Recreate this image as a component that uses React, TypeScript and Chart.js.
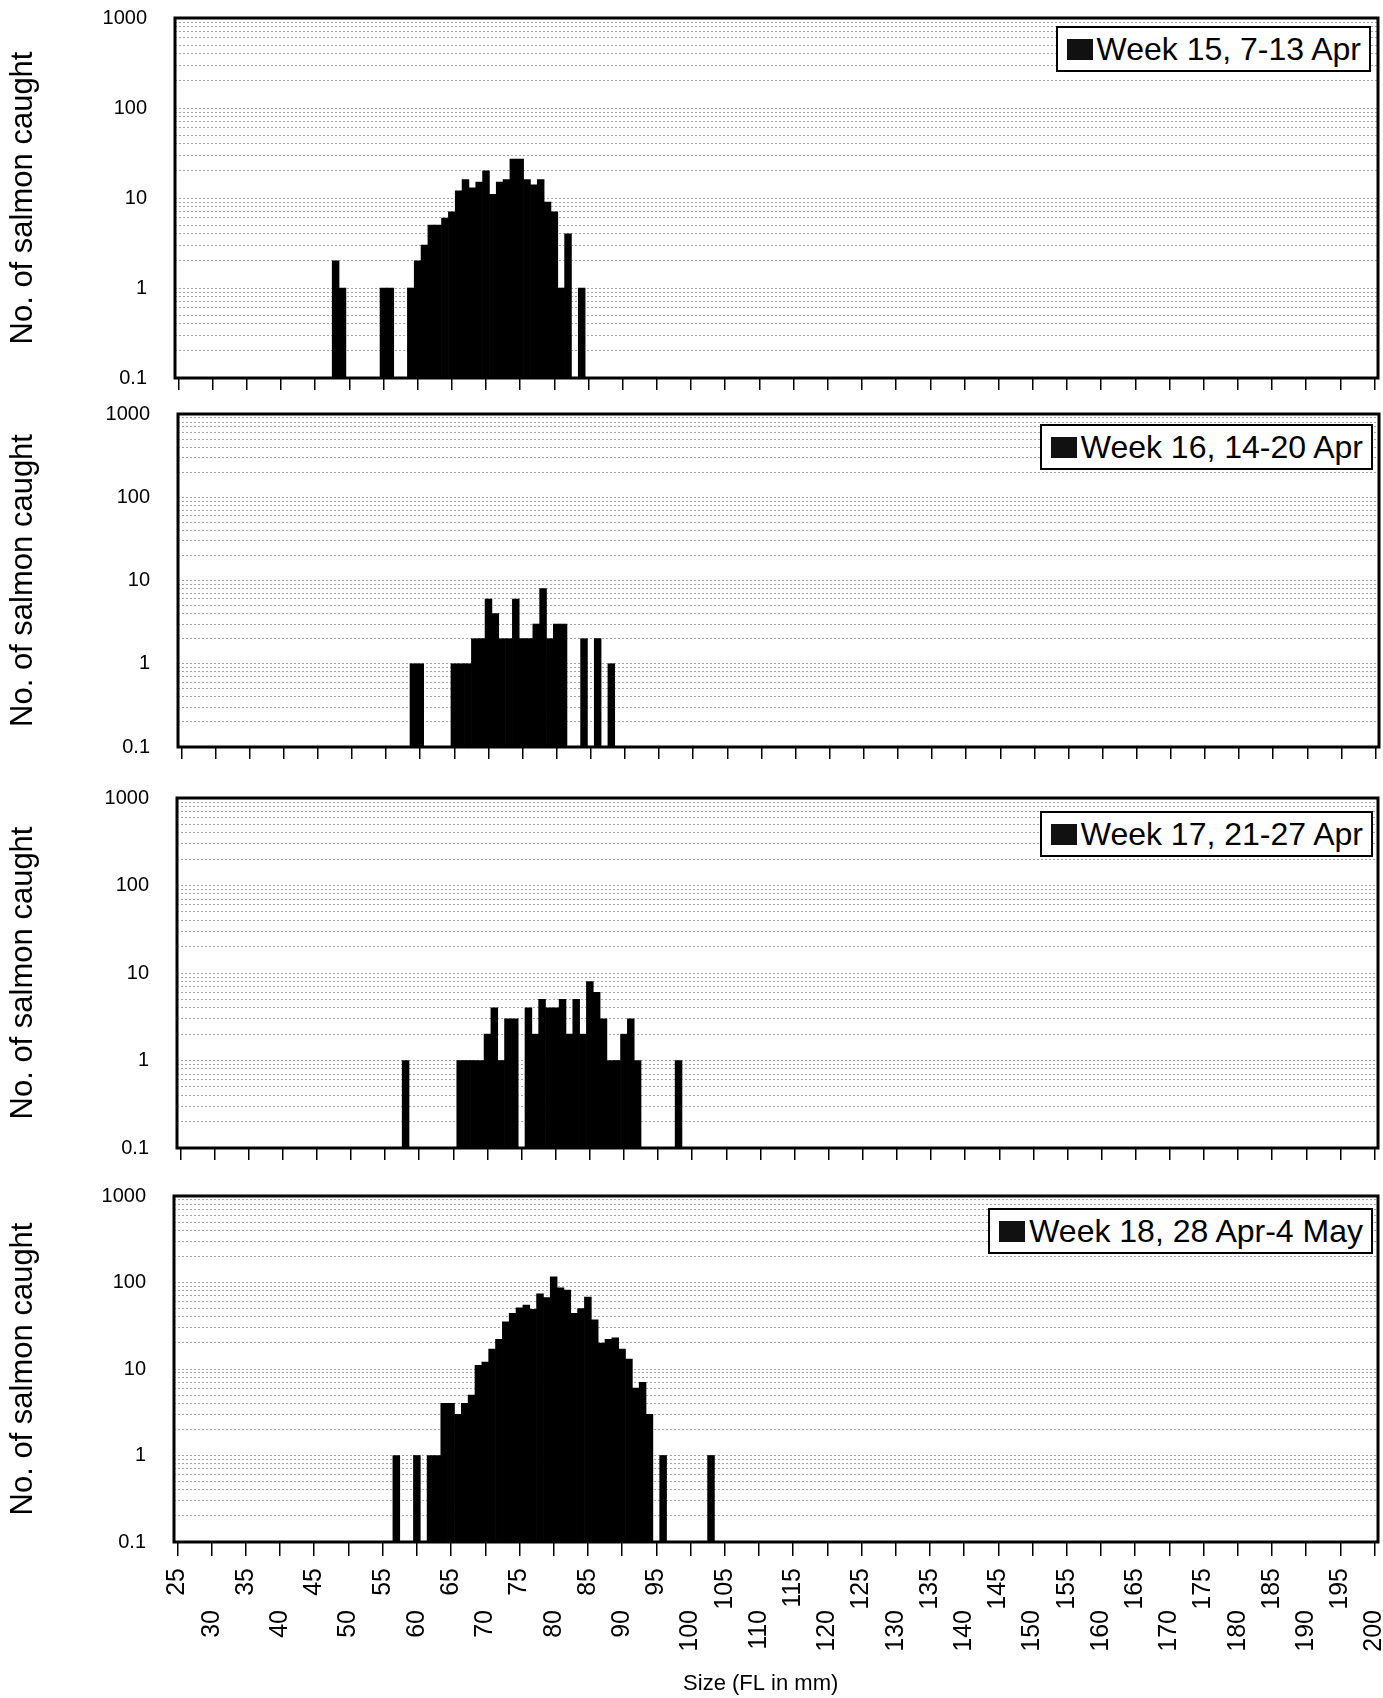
import React, { useEffect, useRef } from 'react';
import { Chart, registerables } from 'chart.js';

Chart.register(...registerables);

// ---------- data ----------
const SIZE_MIN = 25;
const SIZE_MAX = 200;
const sizeCategories: number[] = Array.from({ length: SIZE_MAX - SIZE_MIN + 1 }, (_, i) => SIZE_MIN + i);

const weekLabels = ['Week 15, 7-13 Apr', 'Week 16, 14-20 Apr', 'Week 17, 21-27 Apr', 'Week 18, 28 Apr-4 May'];

const week15Sizes = [48, 49, 55, 56, 59, 60, 61, 62, 63, 64, 65, 66, 67, 68, 69, 70, 71, 72, 73, 74, 75, 76, 77, 78, 79, 80, 81, 82, 84];
const week15Counts = [2, 1, 1, 1, 1, 2, 3, 5, 5, 6, 7, 12, 16, 13, 15, 20, 11, 15, 16, 27, 27, 16, 14, 16, 9, 7, 1, 4, 1];

const week16Sizes = [59, 60, 65, 66, 67, 68, 69, 70, 71, 72, 73, 74, 75, 76, 77, 78, 79, 80, 81, 84, 86, 88];
const week16Counts = [1, 1, 1, 1, 1, 2, 2, 6, 4, 2, 2, 6, 2, 2, 3, 8, 2, 3, 3, 2, 2, 1];

const week17Sizes = [58, 66, 67, 68, 69, 70, 71, 72, 73, 74, 76, 77, 78, 79, 80, 81, 82, 83, 84, 85, 86, 87, 88, 89, 90, 91, 92, 98];
const week17Counts = [1, 1, 1, 1, 1, 2, 4, 1, 3, 3, 4, 2, 5, 4, 4, 5, 2, 5, 2, 8, 6, 3, 1, 1, 2, 3, 1, 1];

const week18Sizes = [57, 60, 62, 63, 64, 65, 66, 67, 68, 69, 70, 71, 72, 73, 74, 75, 76, 77, 78, 79, 80, 81, 82, 83, 84, 85, 86, 87, 88, 89, 90, 91, 92, 93, 94, 96, 103];
const week18Counts = [1, 1, 1, 1, 4, 4, 3, 4, 5, 11, 12, 17, 22, 35, 44, 51, 55, 49, 74, 67, 116, 87, 82, 44, 50, 68, 37, 20, 22, 23, 17, 13, 6, 7, 3, 1, 1];

const yMajorTicks = [0.1, 1, 10, 100, 1000];
const yMinorMultipliers = [1, 2, 3, 4, 5, 6, 7, 8, 9];
const yTitle = 'No. of salmon caught';
const xTitle = 'Size (FL in mm)';

// ---------- helpers ----------
const CANVAS_W = 1383;
const FONT = "'Liberation Sans', Arial, Helvetica, sans-serif";

const yTickValues: number[] = yMajorTicks
  .slice(0, -1)
  .flatMap((m) => yMinorMultipliers.map((k) => +(k * m).toPrecision(3)))
  .concat([yMajorTicks[yMajorTicks.length - 1]]);

function buildCounts(sizes: number[], counts: number[]): (number | null)[] {
  const map = new Map<number, number>();
  sizes.forEach((s, i) => map.set(s, counts[i]));
  return sizeCategories.map((c) => (map.has(c) ? (map.get(c) as number) : null));
}

type PanelCfg = {
  canvasTop: number;
  canvasHeight: number;
  plotTop: number;
  plotBottom: number;
  plotLeft: number;
  plotRight: number;
  legendTop: number;
  legendRight: number;
  tickLen: number;
  axisLabels: boolean;
  sizes: number[];
  counts: number[];
  label: string;
};

const panels: PanelCfg[] = [
  { canvasTop: 0, canvasHeight: 400, plotTop: 18, plotBottom: 378, plotLeft: 175, plotRight: 1378, legendTop: 26, legendRight: 1371, tickLen: 12, axisLabels: false, sizes: week15Sizes, counts: week15Counts, label: weekLabels[0] },
  { canvasTop: 400, canvasHeight: 380, plotTop: 414, plotBottom: 747, plotLeft: 178, plotRight: 1379, legendTop: 424, legendRight: 1373, tickLen: 12, axisLabels: false, sizes: week16Sizes, counts: week16Counts, label: weekLabels[1] },
  { canvasTop: 780, canvasHeight: 400, plotTop: 798, plotBottom: 1148, plotLeft: 177, plotRight: 1378, legendTop: 811, legendRight: 1373, tickLen: 12, axisLabels: false, sizes: week17Sizes, counts: week17Counts, label: weekLabels[2] },
  { canvasTop: 1180, canvasHeight: 518, plotTop: 1196, plotBottom: 1542, plotLeft: 174, plotRight: 1378, legendTop: 1208, legendRight: 1373, tickLen: 14, axisLabels: true, sizes: week18Sizes, counts: week18Counts, label: weekLabels[3] },
];

const framePlugin = {
  id: 'frame',
  afterDatasetsDraw(chart: any) {
    const { ctx, chartArea: a } = chart;
    ctx.save();
    ctx.strokeStyle = '#000';
    ctx.lineWidth = 3;
    ctx.strokeRect(a.left, a.top, a.right - a.left, a.bottom - a.top);
    ctx.restore();
  },
};

const X_LABEL_SIZE = 25;

function buildConfig(p: PanelCfg): any {
  const xTotal = p.canvasTop + p.canvasHeight - p.plotBottom;
  const firstRowH = 68; // upper row of size labels
  const scales: any = {
    x: {
      type: 'category',
      position: 'bottom',
      offset: true,
      weight: 0,
      grid: {
        display: true,
        drawOnChartArea: false,
        drawTicks: true,
        tickLength: p.tickLen,
        offset: false,
        lineWidth: 1.5,
        color: (c: any) => (sizeCategories[c.index] % 5 === 0 ? '#000' : 'rgba(0,0,0,0)'),
      },
      border: { display: false },
      ticks: {
        display: p.axisLabels,
        autoSkip: false,
        minRotation: 90,
        maxRotation: 90,
        padding: 12,
        color: '#000',
        font: { family: FONT, size: X_LABEL_SIZE },
        callback: (_v: any, i: number) => (sizeCategories[i] % 10 === 5 ? String(sizeCategories[i]) : ''),
      },
      afterFit: (s: any) => {
        s.height = p.axisLabels ? firstRowH : xTotal;
        s.paddingLeft = 0;
        s.paddingRight = 0;
      },
    },
    y: {
      type: 'logarithmic',
      position: 'left',
      min: yMajorTicks[0],
      max: yMajorTicks[yMajorTicks.length - 1],
      afterBuildTicks: (s: any) => {
        s.ticks = yTickValues.map((v) => ({ value: v }));
      },
      grid: {
        display: true,
        drawTicks: false,
        color: 'rgba(0,0,0,0.36)',
        lineWidth: 1,
      },
      border: { display: false, dash: [2, 2] },
      ticks: {
        autoSkip: false,
        padding: 28,
        color: '#000',
        font: { family: FONT, size: 20 },
        callback: (v: any) => (yMajorTicks.includes(v) ? String(v) : ''),
      },
      title: {
        display: true,
        text: yTitle,
        color: '#000',
        font: { family: FONT, size: 31 },
        padding: { top: 5, bottom: 0 },
      },
      afterFit: (s: any) => {
        s.width = p.plotLeft;
        s.paddingTop = 0;
        s.paddingBottom = 0;
      },
    },
  };
  if (p.axisLabels) {
    scales.x2 = {
      type: 'category',
      axis: 'x',
      position: 'bottom',
      offset: true,
      weight: 1,
      grid: { display: false, drawTicks: false, drawOnChartArea: false },
      border: { display: false },
      ticks: {
        autoSkip: false,
        minRotation: 90,
        maxRotation: 90,
        padding: 0,
        color: '#000',
        font: { family: FONT, size: X_LABEL_SIZE },
        callback: (_v: any, i: number) => (sizeCategories[i] % 10 === 0 ? String(sizeCategories[i]) : ''),
      },
      title: {
        display: true,
        text: xTitle + '     ',
        color: '#000',
        font: { family: FONT, size: 22 },
        padding: { top: 0, bottom: 1 },
      },
      afterFit: (s: any) => {
        s.height = xTotal - firstRowH;
        s.paddingLeft = 0;
        s.paddingRight = 0;
      },
    };
  }
  return {
    type: 'bar',
    data: {
      labels: sizeCategories.map(String),
      datasets: [
        {
          label: p.label,
          data: buildCounts(p.sizes, p.counts),
          backgroundColor: '#000',
          borderWidth: 0,
          barPercentage: 1,
          categoryPercentage: 1,
        },
      ],
    },
    options: {
      responsive: false,
      maintainAspectRatio: false,
      animation: false,
      events: [],
      layout: { padding: { top: p.plotTop - p.canvasTop, left: 0, right: CANVAS_W - p.plotRight, bottom: 0 } },
      plugins: { legend: { display: false }, tooltip: { enabled: false }, title: { display: false } },
      scales,
    },
    plugins: [framePlugin],
  };
}

function Panel({ cfg }: { cfg: PanelCfg }) {
  const ref = useRef<HTMLCanvasElement | null>(null);
  useEffect(() => {
    if (!ref.current) return;
    const chart = new Chart(ref.current, buildConfig(cfg));
    return () => chart.destroy();
  }, [cfg]);
  return (
    <>
      <canvas
        ref={ref}
        width={CANVAS_W}
        height={cfg.canvasHeight}
        style={{ position: 'absolute', left: 0, top: cfg.canvasTop, width: CANVAS_W, height: cfg.canvasHeight, display: 'block' }}
      />
      <div
        style={{
          position: 'absolute',
          top: cfg.legendTop,
          right: CANVAS_W - cfg.legendRight,
          height: 46,
          boxSizing: 'border-box',
          border: '2px solid #000',
          background: '#fff',
          display: 'flex',
          alignItems: 'center',
          padding: '0 8px 0 9px',
          fontFamily: FONT,
          fontSize: 32,
          color: '#000',
          whiteSpace: 'nowrap',
          lineHeight: 1,
        }}
      >
        <span style={{ display: 'inline-block', width: 26, height: 21, background: '#111', marginRight: 4 }} />
        <span>{cfg.label}</span>
      </div>
    </>
  );
}

export default function App() {
  return (
    <div style={{ position: 'absolute', left: 0, top: 0, width: CANVAS_W, height: 1698, overflow: 'hidden', background: '#fff' }}>
      {panels.map((p, i) => (
        <Panel key={i} cfg={p} />
      ))}
    </div>
  );
}
